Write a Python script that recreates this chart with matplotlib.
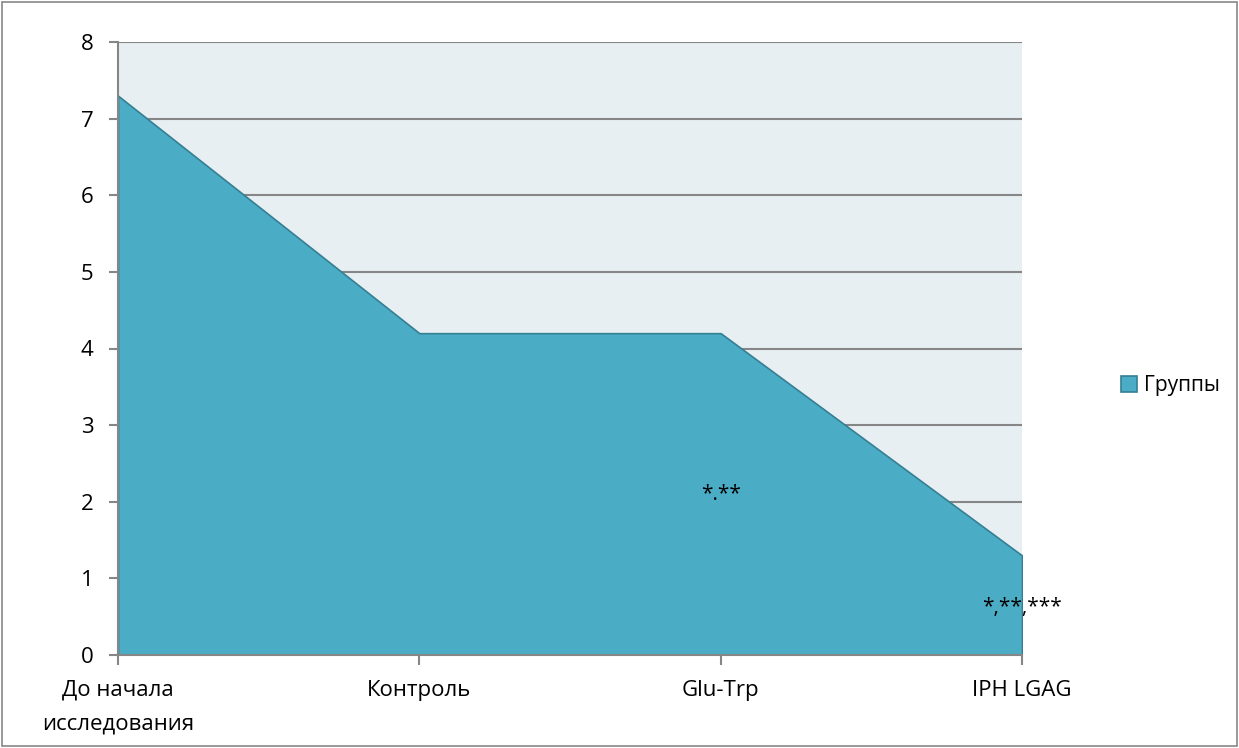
import matplotlib.pyplot as plt
from matplotlib.patches import Rectangle

# группы и значения показателя
groups = ["До начала\nисследования", "Контроль", "Glu-Trp", "IPH LGAG"]
values = [7.3, 4.2, 4.2, 1.3]
marks = ["", "", "*.**", "*,**,***"]
mark_y = [0, 0, 2.1, 0.62]

plt.rcParams['font.family'] = ['Open Sans', 'DejaVu Sans']

fig = plt.figure(figsize=(12.39, 7.48), dpi=100)
ax = fig.add_axes([118 / 1239, 1 - 655 / 748, (1022 - 118) / 1239, (655 - 42) / 748])
ax.set_facecolor("#E8EFF3")

x = list(range(len(groups)))
ax.fill_between(x, values, 0, color="#4BACC6", edgecolor="#357F93", linewidth=1.2,
                label="Группы", zorder=3)

for xi, m, my in zip(x, marks, mark_y):
    if m:
        ax.text(xi, my, m, ha="center", va="center", fontsize=15, zorder=4)

ax.set_xlim(0, len(groups) - 1)
ax.set_ylim(0, 8)
ax.set_yticks(range(0, 9))
ax.set_xticks(x)
ax.set_xticklabels(groups, fontsize=16, linespacing=1.75)
ax.tick_params(axis="y", labelsize=16, length=6.5, color="#868686", width=1.5, pad=11)
ax.tick_params(axis="x", length=7, color="#868686", width=1.5, pad=11)
ax.grid(axis="y", color="#868686", linewidth=1.5, zorder=1)
ax.set_axisbelow(True)
for s in ["top", "right"]:
    ax.spines[s].set_visible(False)
for s in ["left", "bottom"]:
    ax.spines[s].set_color("#868686")
    ax.spines[s].set_linewidth(1.5)
    ax.spines[s].set_zorder(5)

leg = ax.legend(loc="center left", bbox_to_anchor=(1.1, 0.44), frameon=False,
                fontsize=15, handlelength=0.8, handleheight=0.8, handletextpad=0.3,
                borderaxespad=0)

fig.patches.append(Rectangle((0.002, 0.003), 0.996, 0.994, transform=fig.transFigure,
                             fill=False, edgecolor="#878787", linewidth=1.2))

fig.savefig("out.png", dpi=100)
